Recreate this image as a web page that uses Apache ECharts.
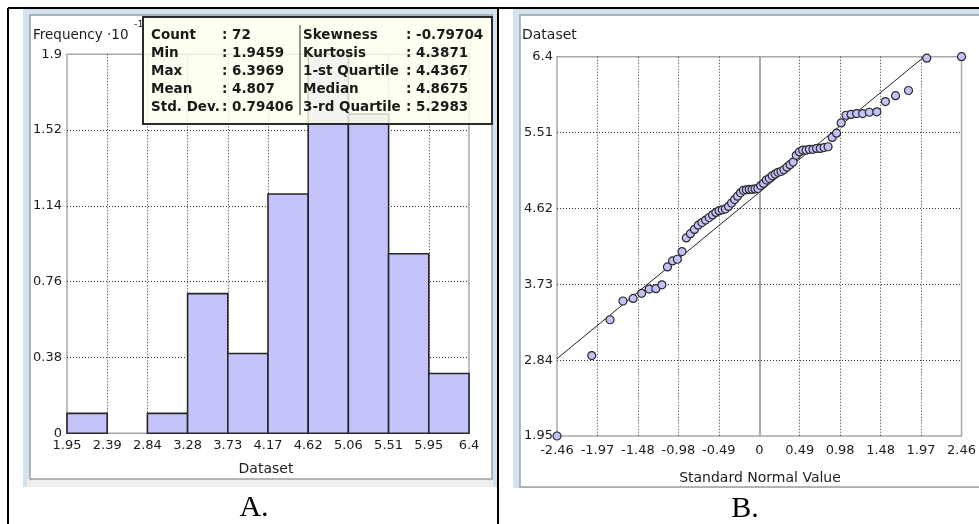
<!DOCTYPE html>
<html>
<head>
<meta charset="utf-8">
<script src="https://cdn.jsdelivr.net/npm/echarts@6/dist/echarts.min.js"></script>
<style>
  html, body { margin: 0; padding: 0; background: #ffffff; }
  #chart { width: 979px; height: 524px; }
</style>
</head>
<body>
<div id="chart"></div>
<script>
// ---------------- Data: panel A (histogram) ----------------
const histEdges = [1.9459, 2.391, 2.8361, 3.2812, 3.7263, 4.1714, 4.6164, 5.0615, 5.5066, 5.9517, 6.3969];
const histTickLabels = ['1.95', '2.39', '2.84', '3.28', '3.73', '4.17', '4.62', '5.06', '5.51', '5.95', '6.4'];
const histFreq = [0.1, 0, 0.1, 0.7, 0.4, 1.2, 1.9, 1.6, 0.9, 0.3];
const histYTicks = [0, 0.38, 0.76, 1.14, 1.52, 1.9];
const histYLabels = ['0', '0.38', '0.76', '1.14', '1.52', '1.9'];

const statsLeftNames = ['Count', 'Min', 'Max', 'Mean', 'Std. Dev.'];
const statsLeftValues = ['72', '1.9459', '6.3969', '4.807', '0.79406'];
const statsRightNames = ['Skewness', 'Kurtosis', '1-st Quartile', 'Median', '3-rd Quartile'];
const statsRightValues = ['-0.79704', '4.3871', '4.4367', '4.8675', '5.2983'];

// ---------------- Data: panel B (normal QQ plot) ----------------
const qqZ = [-2.46, -2.037, -1.815, -1.658, -1.534, -1.43, -1.339, -1.258, -1.184, -1.117, -1.055, -0.996,
  -0.94, -0.887, -0.837, -0.788, -0.742, -0.697, -0.653, -0.61, -0.569, -0.528, -0.489, -0.45,
  -0.412, -0.374, -0.337, -0.3, -0.264, -0.228, -0.193, -0.157, -0.122, -0.087, -0.052, -0.017,
  0.017, 0.052, 0.087, 0.122, 0.157, 0.193, 0.228, 0.264, 0.3, 0.337, 0.374, 0.412,
  0.45, 0.489, 0.528, 0.569, 0.61, 0.653, 0.697, 0.742, 0.788, 0.837, 0.887, 0.94,
  0.996, 1.055, 1.117, 1.184, 1.258, 1.339, 1.43, 1.534, 1.658, 1.815, 2.037, 2.46];
const qqVal = [1.9459, 2.89, 3.31, 3.53, 3.56, 3.62, 3.67, 3.675, 3.72, 3.93, 4.0, 4.02,
  4.11, 4.27, 4.32, 4.37, 4.42, 4.45, 4.48, 4.51, 4.54, 4.57, 4.59, 4.6,
  4.61, 4.64, 4.68, 4.72, 4.76, 4.8, 4.83, 4.835, 4.84, 4.84, 4.845, 4.85,
  4.885, 4.91, 4.95, 4.97, 5.0, 5.02, 5.04, 5.05, 5.07, 5.1, 5.13, 5.16,
  5.24, 5.28, 5.3, 5.3, 5.31, 5.31, 5.32, 5.32, 5.33, 5.34, 5.45, 5.5,
  5.62, 5.71, 5.72, 5.73, 5.73, 5.745, 5.75, 5.87, 5.94, 6.0, 6.38, 6.3969];
const refLineZ = [-2.46, 2.006];
const refLineVal = [2.853, 6.3969];
const qqXTicks = [-2.46, -1.968, -1.476, -0.984, -0.492, 0, 0.492, 0.984, 1.476, 1.968, 2.46];
const qqXLabels = ['-2.46', '-1.97', '-1.48', '-0.98', '-0.49', '0', '0.49', '0.98', '1.48', '1.97', '2.46'];
const qqYTicks = [1.9459, 2.8361, 3.7263, 4.6164, 5.5066, 6.3969];
const qqYLabels = ['1.95', '2.84', '3.73', '4.62', '5.51', '6.4'];

// ---------------- Helpers ----------------
const FONT = 'DejaVu Sans';
const TXT = '#1c1c1c';
function labelFor(ticks, labels) {
  return function (v) {
    const i = ticks.findIndex(t => Math.abs(t - v) < 1e-6);
    return i >= 0 ? labels[i] : '';
  };
}
const dotted = { type: [1, 2], color: '#333333', width: 1 };

const histData = histFreq.map((f, i) => [histEdges[i], histEdges[i + 1], f]);
const qqData = qqZ.map((z, i) => [z, qqVal[i]]);
const refData = refLineZ.map((z, i) => [z, refLineVal[i]]);

// ---------------- Decorations (frames, stats box, captions) ----------------
const graphics = [];
graphics.push({ type: 'rect', z: -20, shape: { x: 23, y: 9, width: 474, height: 478 }, style: { fill: '#d3e2f2' } });
graphics.push({ type: 'rect', z: -19, shape: { x: 27, y: 479, width: 466, height: 8 }, style: { fill: '#eeeeee' } });
graphics.push({ type: 'rect', z: -18, shape: { x: 30, y: 15, width: 462, height: 464 }, style: { fill: '#ffffff', stroke: '#a0a0a0', lineWidth: 1.5 } });
graphics.push({ type: 'rect', z: -20, shape: { x: 513, y: 9, width: 470, height: 479 }, style: { fill: '#d3e2f2' } });
graphics.push({ type: 'rect', z: -18, shape: { x: 520, y: 15, width: 470, height: 472 }, style: { fill: '#ffffff', stroke: '#a0a0a0', lineWidth: 1.5 } });
graphics.push({ type: 'line', z: 50, shape: { x1: 8, y1: 8, x2: 979, y2: 8 }, style: { stroke: '#000', lineWidth: 2 } });
graphics.push({ type: 'line', z: 50, shape: { x1: 8, y1: 8, x2: 8, y2: 524 }, style: { stroke: '#000', lineWidth: 2 } });
graphics.push({ type: 'line', z: 50, shape: { x1: 498, y1: 8, x2: 498, y2: 524 }, style: { stroke: '#000', lineWidth: 2 } });
graphics.push({ type: 'text', z: 10, x: 33, y: 35, style: { text: 'Frequency ·10', font: '13.5px "' + FONT + '"', fill: TXT, verticalAlign: 'middle', align: 'left' } });
graphics.push({ type: 'text', z: 10, x: 134, y: 25, style: { text: '-1', font: '9.5px "' + FONT + '"', fill: TXT, verticalAlign: 'middle', align: 'left' } });
graphics.push({ type: 'text', z: 10, x: 266, y: 469, style: { text: 'Dataset', font: '14px "' + FONT + '"', fill: TXT, verticalAlign: 'middle', align: 'center' } });
graphics.push({ type: 'text', z: 10, x: 522, y: 35, style: { text: 'Dataset', font: '14px "' + FONT + '"', fill: TXT, verticalAlign: 'middle', align: 'left' } });
graphics.push({ type: 'text', z: 10, x: 760, y: 478, style: { text: 'Standard Normal Value', font: '14px "' + FONT + '"', fill: TXT, verticalAlign: 'middle', align: 'center' } });
graphics.push({ type: 'text', z: 10, x: 254, y: 508, style: { text: 'A.', font: '30px "Liberation Serif"', fill: '#000', verticalAlign: 'middle', align: 'center' } });
graphics.push({ type: 'text', z: 10, x: 745, y: 509, style: { text: 'B.', font: '30px "Liberation Serif"', fill: '#000', verticalAlign: 'middle', align: 'center' } });
graphics.push({ type: 'rect', z: 100, shape: { x: 143, y: 17, width: 349, height: 107 }, style: { fill: 'rgba(255,255,238,0.8)', stroke: '#2a2a2a', lineWidth: 2 } });
graphics.push({ type: 'line', z: 101, shape: { x1: 300, y1: 25, x2: 300, y2: 115 }, style: { stroke: '#2a2a2a', lineWidth: 1 } });
const boldFont = 'bold 13.5px "' + FONT + '"';
for (let i = 0; i < statsLeftNames.length; i++) {
  const y = 35 + i * 18.1;
  graphics.push({ type: 'text', z: 101, x: 151, y: y, style: { text: statsLeftNames[i], font: boldFont, fill: '#1a1a1a', verticalAlign: 'middle' } });
  graphics.push({ type: 'text', z: 101, x: 222, y: y, style: { text: ': ' + statsLeftValues[i], font: boldFont, fill: '#1a1a1a', verticalAlign: 'middle' } });
  graphics.push({ type: 'text', z: 101, x: 303, y: y, style: { text: statsRightNames[i], font: boldFont, fill: '#1a1a1a', verticalAlign: 'middle' } });
  graphics.push({ type: 'text', z: 101, x: 406, y: y, style: { text: ': ' + statsRightValues[i], font: boldFont, fill: '#1a1a1a', verticalAlign: 'middle' } });
}

// ---------------- Chart ----------------
const chart = echarts.init(document.getElementById('chart'), null, { renderer: 'canvas' });
const axisLabelBase = { color: TXT, fontFamily: FONT, fontSize: 13 };

const option = {
  animation: false,
  backgroundColor: '#ffffff',
  textStyle: { fontFamily: FONT },
  grid: [
    { left: 67, top: 54.3, width: 402, height: 379, show: true, borderColor: '#a8a8a8', borderWidth: 1.5, backgroundColor: 'transparent' },
    { left: 557, top: 56.7, width: 407, height: 379.3, show: true, borderColor: '#a8a8a8', borderWidth: 1.5, backgroundColor: 'transparent' }
  ],
  xAxis: [
    {
      type: 'value', gridIndex: 0, min: histEdges[0], max: histEdges[histEdges.length - 1],
      axisLine: { show: false }, axisTick: { show: false, customValues: histEdges },
      axisLabel: Object.assign({}, axisLabelBase, { customValues: histEdges, margin: 6, formatter: labelFor(histEdges, histTickLabels) }),
      splitLine: { show: true, showMinLine: false, showMaxLine: false, lineStyle: dotted }
    },
    {
      type: 'value', gridIndex: 1, min: qqXTicks[0], max: qqXTicks[qqXTicks.length - 1],
      axisLine: { show: false }, axisTick: { show: false, customValues: qqXTicks },
      axisLabel: Object.assign({}, axisLabelBase, { customValues: qqXTicks, margin: 8, formatter: labelFor(qqXTicks, qqXLabels) }),
      splitLine: { show: true, showMinLine: false, showMaxLine: false, lineStyle: dotted }
    }
  ],
  yAxis: [
    {
      type: 'value', gridIndex: 0, min: histYTicks[0], max: histYTicks[histYTicks.length - 1],
      axisLine: { show: false }, axisTick: { show: false, customValues: histYTicks },
      axisLabel: Object.assign({}, axisLabelBase, { customValues: histYTicks, margin: 5, formatter: labelFor(histYTicks, histYLabels) }),
      splitLine: { show: true, showMinLine: false, showMaxLine: false, lineStyle: dotted }
    },
    {
      type: 'value', gridIndex: 1, min: qqYTicks[0], max: qqYTicks[qqYTicks.length - 1],
      axisLine: { show: false }, axisTick: { show: false, customValues: qqYTicks },
      axisLabel: Object.assign({}, axisLabelBase, { customValues: qqYTicks, margin: 4, formatter: labelFor(qqYTicks, qqYLabels) }),
      splitLine: { show: true, showMinLine: false, showMaxLine: false, lineStyle: dotted }
    }
  ],
  series: [
    {
      type: 'custom', xAxisIndex: 0, yAxisIndex: 0, data: histData, z: 5,
      renderItem: function (params, api) {
        const f = api.value(2);
        if (!f) return null;
        const p0 = api.coord([api.value(0), f]);
        const p1 = api.coord([api.value(1), 0]);
        return {
          type: 'rect',
          shape: { x: p0[0], y: p0[1], width: p1[0] - p0[0], height: p1[1] - p0[1] },
          style: { fill: '#c4c4fb', stroke: '#262626', lineWidth: 1.6 }
        };
      }
    },
    {
      type: 'line', xAxisIndex: 1, yAxisIndex: 1, data: refData, z: 4,
      symbol: 'none', lineStyle: { color: '#222', width: 1 },
      markLine: {
        silent: true, symbol: 'none', label: { show: false },
        lineStyle: { color: '#a8a8a8', width: 2, type: 'solid' },
        data: [{ xAxis: 0 }]
      }
    },
    {
      type: 'scatter', xAxisIndex: 1, yAxisIndex: 1, data: qqData, z: 6, clip: false,
      symbol: 'circle', symbolSize: 8,
      itemStyle: { color: '#c2c2fb', borderColor: '#2a2a2a', borderWidth: 1.2, opacity: 1 }
    }
  ],
  graphic: { elements: graphics }
};
chart.setOption(option);
</script>
</body>
</html>
